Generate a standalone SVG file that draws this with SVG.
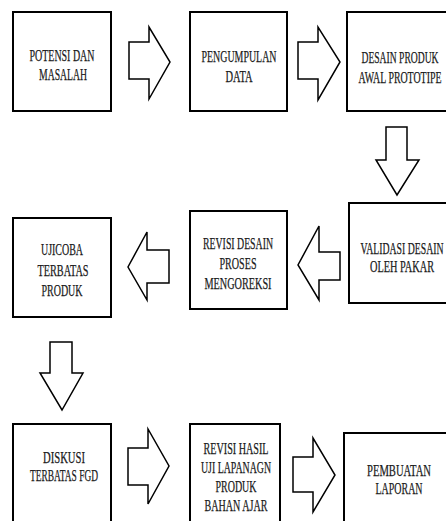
<svg xmlns="http://www.w3.org/2000/svg" width="446" height="521" viewBox="0 0 446 521">
<style>
.box{fill:#fff;stroke:#000;stroke-width:2}
.arr{fill:#fff;stroke:#000;stroke-width:1.5;stroke-linejoin:miter}
.t{font-family:'Liberation Serif','Tinos','DejaVu Serif','Times New Roman',serif;font-size:16px;fill:#1a1a1a;stroke:#1a1a1a;stroke-width:0.25;text-anchor:middle}
</style>
<rect width="446" height="521" fill="#fff"/>
<g id="n1"><rect class="box" x="13" y="12" width="98" height="99"/>
<text class="t" x="62" y="61" textLength="65" lengthAdjust="spacingAndGlyphs">POTENSI DAN</text>
<text class="t" x="63" y="80" textLength="48" lengthAdjust="spacingAndGlyphs">MASALAH</text></g>
<g id="n2"><rect class="box" x="190" y="12" width="97" height="99"/>
<text class="t" x="239" y="62" textLength="75" lengthAdjust="spacingAndGlyphs">PENGUMPULAN</text>
<text class="t" x="239" y="82" textLength="27" lengthAdjust="spacingAndGlyphs">DATA</text></g>
<g id="n3"><rect class="box" x="347" y="12" width="113" height="99"/>
<text class="t" x="400" y="63" textLength="77" lengthAdjust="spacingAndGlyphs">DESAIN PRODUK</text>
<text class="t" x="400" y="83" textLength="83" lengthAdjust="spacingAndGlyphs">AWAL PROTOTIPE</text></g>
<g id="n4"><rect class="box" x="349" y="203" width="111" height="100"/>
<text class="t" x="402" y="254" textLength="83" lengthAdjust="spacingAndGlyphs">VALIDASI DESAIN</text>
<text class="t" x="402" y="272" textLength="64" lengthAdjust="spacingAndGlyphs">OLEH PAKAR</text></g>
<g id="n5"><rect class="box" x="190" y="211" width="97" height="98"/>
<text class="t" x="238" y="249" textLength="70" lengthAdjust="spacingAndGlyphs">REVISI DESAIN</text>
<text class="t" x="238" y="269" textLength="37" lengthAdjust="spacingAndGlyphs">PROSES</text>
<text class="t" x="238" y="289" textLength="67" lengthAdjust="spacingAndGlyphs">MENGOREKSI</text></g>
<g id="n6"><rect class="box" x="13" y="218" width="98" height="99"/>
<text class="t" x="62" y="255" textLength="42" lengthAdjust="spacingAndGlyphs">UJICOBA</text>
<text class="t" x="63" y="276" textLength="51" lengthAdjust="spacingAndGlyphs">TERBATAS</text>
<text class="t" x="62" y="296" textLength="41" lengthAdjust="spacingAndGlyphs">PRODUK</text></g>
<g id="n7"><rect class="box" x="13" y="424" width="98" height="110"/>
<text class="t" x="64" y="463" textLength="42" lengthAdjust="spacingAndGlyphs">DISKUSI</text>
<text class="t" x="64" y="481" textLength="68" lengthAdjust="spacingAndGlyphs">TERBATAS FGD</text></g>
<g id="n8"><rect class="box" x="190" y="424" width="90" height="110"/>
<text class="t" x="236" y="454" textLength="65" lengthAdjust="spacingAndGlyphs">REVISI HASIL</text>
<text class="t" x="236" y="473" textLength="70" lengthAdjust="spacingAndGlyphs">UJI LAPANAGN</text>
<text class="t" x="236" y="492" textLength="41" lengthAdjust="spacingAndGlyphs">PRODUK</text>
<text class="t" x="236" y="511" textLength="63" lengthAdjust="spacingAndGlyphs">BAHAN AJAR</text></g>
<g id="n9"><rect class="box" x="344" y="433" width="116" height="100"/>
<text class="t" x="399" y="476" textLength="64" lengthAdjust="spacingAndGlyphs">PEMBUATAN</text>
<text class="t" x="399" y="494" textLength="47" lengthAdjust="spacingAndGlyphs">LAPORAN</text></g>
<g id="connectors">
<polygon class="arr" points="129,42 149,42 149,27 170,62 149,99 149,79 129,79"/>
<polygon class="arr" points="298,42 318,42 318,27 340,62 318,100 318,79 298,79"/>
<polygon class="arr" points="386,127 407,127 407,160 419,160 397,195 376,160 386,160"/>
<polygon class="arr" points="340,252 319,252 319,226 298,265 319,300 319,280 340,280"/>
<polygon class="arr" points="169,250 147,250 147,232 128,267 147,300 147,283 169,283"/>
<polygon class="arr" points="50,342 72,342 72,373 83,373 62,410 40,373 50,373"/>
<polygon class="arr" points="128,448 148,448 148,429 169,466 148,504 148,485 128,485"/>
<polygon class="arr" points="293,457 313,457 313,438 335,475 313,512 313,492 293,492"/>
</g>
</svg>
